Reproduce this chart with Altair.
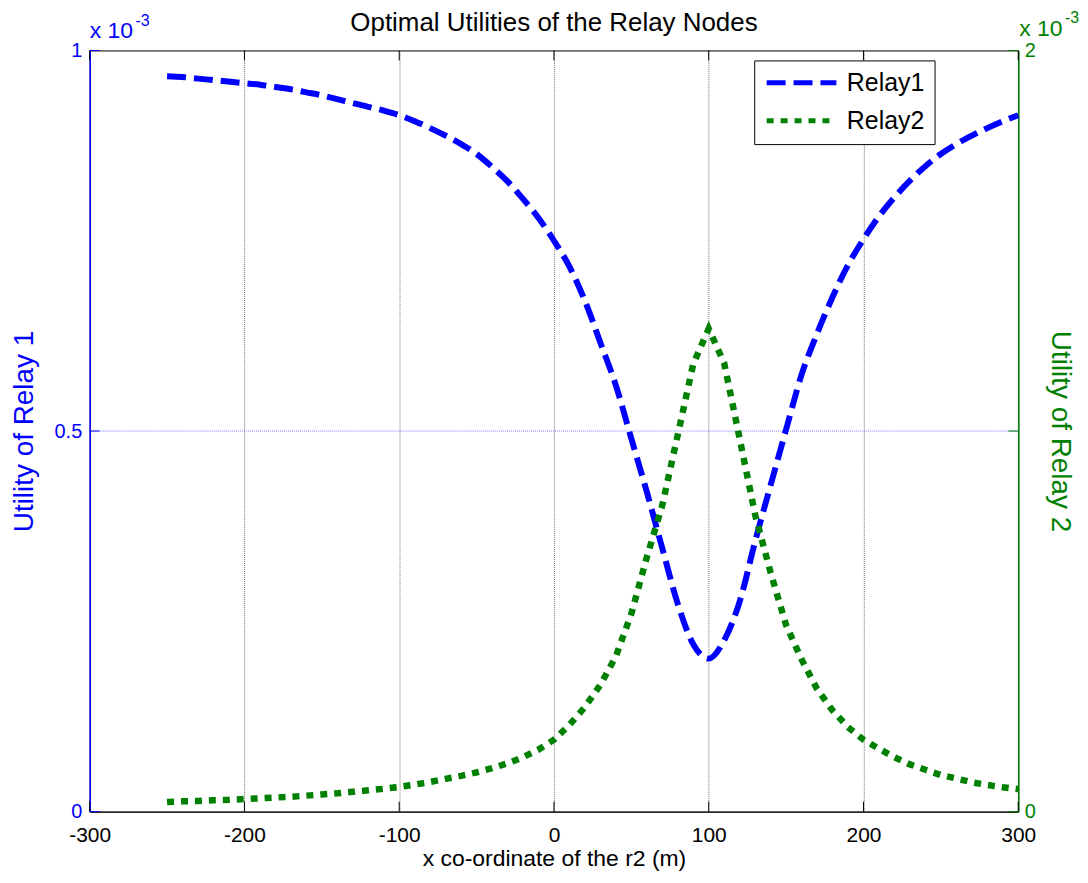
import altair as alt
import pandas as pd

# ---------------- data ----------------
x_vals = list(range(-250, 301, 10))

relay1 = [0.966, 0.965, 0.963, 0.961, 0.959, 0.957, 0.955, 0.952, 0.949, 0.945,
          0.941, 0.936, 0.931, 0.926, 0.921, 0.915, 0.907, 0.898, 0.888, 0.877,
          0.864, 0.847, 0.828, 0.805, 0.780, 0.750, 0.716, 0.671, 0.616, 0.560,
          0.490, 0.420, 0.346, 0.273, 0.220, 0.201, 0.225, 0.276, 0.355, 0.429,
          0.502, 0.574, 0.628, 0.676, 0.718, 0.752, 0.782, 0.807, 0.829, 0.848,
          0.864, 0.877, 0.888, 0.898, 0.907, 0.915]

relay2 = [0.025, 0.027, 0.028, 0.030, 0.031, 0.033, 0.035, 0.037, 0.039, 0.042,
          0.045, 0.048, 0.052, 0.056, 0.060, 0.065, 0.071, 0.078, 0.086, 0.094,
          0.103, 0.114, 0.127, 0.143, 0.163, 0.189, 0.228, 0.275, 0.333, 0.408,
          0.520, 0.668, 0.805, 0.990, 1.176, 1.269, 1.178, 0.980, 0.780, 0.628,
          0.490, 0.400, 0.322, 0.266, 0.222, 0.189, 0.165, 0.143, 0.124, 0.110,
          0.096, 0.087, 0.077, 0.070, 0.064, 0.059]

series_names = ["Relay1", "Relay2"]
x_ticks = [-300, -200, -100, 0, 100, 200, 300]
y1_ticks = [0, 0.5, 1]
y2_ticks = [0, 1, 2]
y1_grid = [0.5]

title_text = "Optimal Utilities of the Relay Nodes"
x_title = "x co-ordinate of the r2 (m)"
y1_title = "Utility of Relay 1"
y2_title = "Utility of Relay 2"

# ---------------- styling ----------------
W, H = 932, 764
FONT = "Liberation Sans"
BLUE = "#0000ff"
GREEN = "#008000"
TICK_LEN = 10

df1 = pd.DataFrame({"x": x_vals, "relay1": relay1, "series": series_names[0]})
df2 = pd.DataFrame({"x": x_vals, "relay2": relay2, "series": series_names[1]})

X = alt.X(
    "x:Q",
    scale=alt.Scale(domain=[-300, 300], nice=False),
    axis=alt.Axis(
        title=x_title, values=x_ticks, labelExpr="toString(datum.value)",
        labelFontSize=21, labelColor="black", labelFont=FONT,
        labelFlush=False, labelOverlap=False, labelPadding=13,
        titleFontSize=23, titleFontWeight="normal", titleColor="black",
        titleFont=FONT, titlePadding=2,
        ticks=False, tickSize=0, domainColor="black", domainWidth=1,
        grid=True, gridDash=[1, 1], gridWidth=1,
        gridColor={"condition": {"test": "abs(datum.value) == 300", "value": "transparent"},
                   "value": "#6e6e6e"},
    ),
)

Y1 = alt.Y(
    "relay1:Q",
    scale=alt.Scale(domain=[0, 1], nice=False),
    axis=alt.Axis(
        title=y1_title, values=y1_ticks, format="~g", orient="left",
        labelFontSize=20, labelColor=BLUE, labelFont=FONT, labelPadding=8,
        titleFontSize=28, titleFontWeight="normal", titleColor=BLUE,
        titleFont=FONT, titlePadding=16,
        ticks=False, tickSize=0, domainColor=BLUE, domainWidth=1.5,
        grid=False,
    ),
)

Y2 = alt.Y(
    "relay2:Q",
    scale=alt.Scale(domain=[0, 2], nice=False),
    axis=alt.Axis(
        title=y2_title, values=y2_ticks, format="d", orient="right",
        labelFontSize=20, labelColor=GREEN, labelFont=FONT, labelPadding=6,
        titleFontSize=28, titleFontWeight="normal", titleColor=GREEN,
        titleFont=FONT, titlePadding=10,
        ticks=False, tickSize=0, domainColor=GREEN, domainWidth=1.5,
        grid=False,
    ),
)

color = alt.Color(
    "series:N",
    scale=alt.Scale(domain=series_names, range=[BLUE, GREEN]),
    legend=alt.Legend(title=None, orient="none", legendX=667, legendY=10),
)
dash = alt.StrokeDash(
    "series:N",
    scale=alt.Scale(domain=series_names, range=[[19, 8], [7, 7]]),
    legend=alt.Legend(title=None, orient="none", legendX=667, legendY=10),
)

# horizontal grid line at 0.5 (left axis colour)
grid_y1 = alt.Chart(pd.DataFrame({"relay1": y1_grid})).mark_rule(
    color="#7a7aff", strokeWidth=1, strokeDash=[1, 1]
).encode(y=Y1)

line1 = alt.Chart(df1).mark_line(strokeWidth=6, strokeCap="butt", interpolate="monotone").encode(
    x=X, y=Y1, color=color, strokeDash=dash
)
line2 = alt.Chart(df2).mark_line(strokeWidth=6.5, strokeCap="butt").encode(
    x=X, y=Y2, color=color, strokeDash=dash
)

# inward tick marks (MATLAB style)
xt = pd.DataFrame({"x": x_ticks})
xticks_bottom = alt.Chart(xt).mark_rule(color="black", strokeWidth=1).encode(
    x=X, y=alt.value(H), y2=alt.value(H - TICK_LEN)
)
xticks_top = alt.Chart(xt).mark_rule(color="black", strokeWidth=1).encode(
    x=X, y=alt.value(0), y2=alt.value(TICK_LEN)
)
y1t = pd.DataFrame({"relay1": y1_ticks})
yticks_left = alt.Chart(y1t).mark_rule(color=BLUE, strokeWidth=1).encode(
    y=Y1, x=alt.value(0), x2=alt.value(TICK_LEN)
)
y2t = pd.DataFrame({"relay2": y2_ticks})
yticks_right = alt.Chart(y2t).mark_rule(color=GREEN, strokeWidth=1).encode(
    y=Y2, x=alt.value(W - TICK_LEN), x2=alt.value(W)
)

# exponent multipliers "x 10^-3"
one = pd.DataFrame({"k": [0]})
exp_left = alt.Chart(one).mark_text(
    text="x 10", fontSize=23, font=FONT, color=BLUE, align="left", baseline="alphabetic"
).encode(x=alt.value(0), y=alt.value(-12))
exp_left_sup = alt.Chart(one).mark_text(
    text="-3", fontSize=16, font=FONT, color=BLUE, align="left", baseline="alphabetic"
).encode(x=alt.value(46), y=alt.value(-25))
exp_right = alt.Chart(one).mark_text(
    text="x 10", fontSize=23, font=FONT, color=GREEN, align="left", baseline="alphabetic"
).encode(x=alt.value(W + 1), y=alt.value(-15))
exp_right_sup = alt.Chart(one).mark_text(
    text="-3", fontSize=16, font=FONT, color=GREEN, align="left", baseline="alphabetic"
).encode(x=alt.value(W + 47), y=alt.value(-28))

left = alt.layer(grid_y1, line1, xticks_bottom, xticks_top, yticks_left, exp_left, exp_left_sup)
right = alt.layer(line2, yticks_right, exp_right, exp_right_sup)

chart = (
    alt.layer(left, right)
    .resolve_scale(y="independent")
    .properties(
        width=W, height=H,
        title=alt.TitleParams(title_text, fontSize=26, fontWeight="normal", font=FONT,
                              color="black", anchor="middle", offset=14, dy=40),
        autosize=alt.AutoSizeParams(type="none"),
        padding={"left": 82, "top": 41, "right": 62, "bottom": 58},
        background="white",
    )
    .configure_view(stroke="black", strokeWidth=1)
    .configure_legend(
        strokeColor="black", fillColor="white", padding=10, cornerRadius=0,
        labelFontSize=25, labelFont=FONT, labelColor="black", labelOffset=8,
        rowPadding=12, clipHeight=25, symbolSize=4900, symbolStrokeWidth=5,
        symbolType="stroke",
    )
)

chart.save("out.html", embed_options={"renderer": "svg", "actions": False})
